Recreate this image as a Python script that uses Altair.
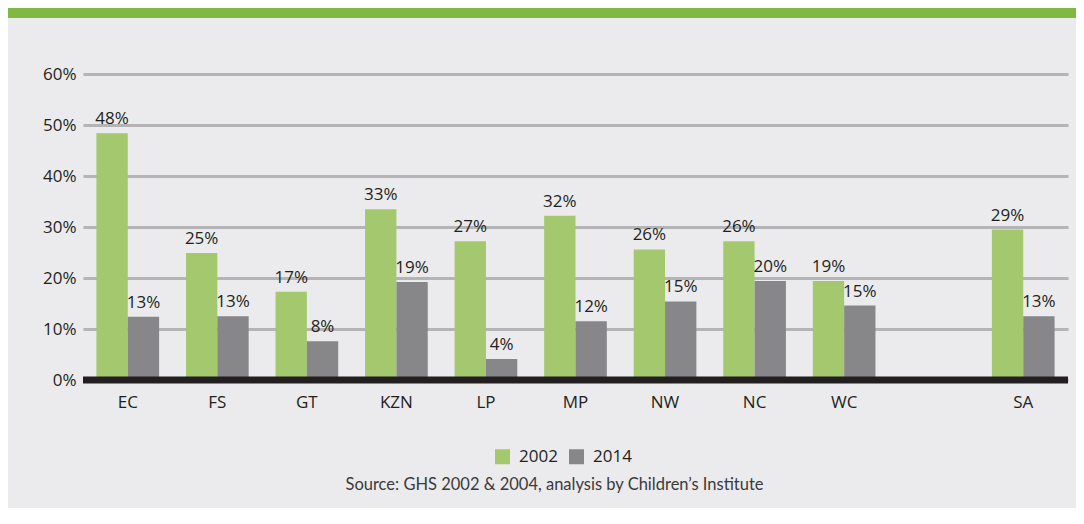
import altair as alt
import pandas as pd

categories = ["EC", "FS", "GT", "KZN", "LP", "MP", "NW", "NC", "WC", "SA"]
axis_order = ["EC", "FS", "GT", "KZN", "LP", "MP", "NW", "NC", "WC", " ", "SA"]
years = ["2002", "2014"]
bars_2002 = [48.4, 24.9, 17.3, 33.5, 27.2, 32.2, 25.6, 27.2, 19.4, 29.5]
bars_2014 = [12.4, 12.5, 7.6, 19.2, 4.1, 11.5, 15.4, 19.4, 14.6, 12.5]
labels_2002 = [48, 25, 17, 33, 27, 32, 26, 26, 19, 29]
labels_2014 = [13, 13, 8, 19, 4, 12, 15, 20, 15, 13]
y_ticks = [0, 10, 20, 30, 40, 50, 60]
source_text = "Source: GHS 2002 & 2004, analysis by Children\u2019s Institute"

rows = []
for i, c in enumerate(categories):
    rows.append({"region": c, "year": years[0], "value": bars_2002[i], "label": f"{labels_2002[i]}%"})
    rows.append({"region": c, "year": years[1], "value": bars_2014[i], "label": f"{labels_2014[i]}%"})
df = pd.DataFrame(rows)

TXT = "#231f20"
FONT = "Open Sans"

base = alt.Chart(df).encode(
    x=alt.X(
        "region:N",
        scale=alt.Scale(domain=axis_order, paddingInner=0.3, paddingOuter=0.15),
        axis=alt.Axis(title=None, labelAngle=0, domain=False, ticks=False,
                      labelFontSize=17, labelColor=TXT, labelFont=FONT, labelPadding=14),
    ),
    xOffset=alt.XOffset("year:N", scale=alt.Scale(domain=years)),
    y=alt.Y(
        "value:Q",
        scale=alt.Scale(domain=[0, 60], nice=False),
        axis=alt.Axis(values=y_ticks, labelExpr="datum.value + '%'", title=None,
                      domain=False, ticks=False, grid=True, gridColor="#b4b4b7",
                      gridWidth=3, labelPadding=7, labelFontSize=17,
                      labelColor=TXT, labelFont=FONT),
    ),
)

bars = base.mark_bar().encode(
    color=alt.Color(
        "year:N",
        scale=alt.Scale(domain=years, range=["#a3c86e", "#87878a"]),
        legend=alt.Legend(title=None, orient="none", legendX=411, legendY=374,
                          direction="horizontal", symbolType="square", symbolSize=225,
                          symbolStrokeWidth=0, labelFontSize=17, labelFont=FONT,
                          labelColor=TXT, columnPadding=10, labelOffset=8, padding=0),
    )
)

labels = base.mark_text(dy=-14, fontSize=17, font=FONT, color=TXT).encode(text="label:N")

baseline = alt.Chart(pd.DataFrame({"z": [0]})).mark_rule(color=TXT, strokeWidth=7).encode(
    y=alt.datum(0)
)

header = alt.Chart(pd.DataFrame({"h": [0]})).mark_rect(color="#80b941").encode(
    x=alt.value(-75), x2=alt.value(993), y=alt.value(-66), y2=alt.value(-56)
)

chart = alt.layer(header, bars, labels, baseline).properties(
    width=985,
    height=306,
    padding={"left": 75, "top": 66, "right": 8, "bottom": 128},
    autosize=alt.AutoSizeParams(type="none"),
    title=alt.TitleParams(source_text, orient="bottom", anchor="middle", fontSize=16.5,
                          font="Lato", fontWeight="normal", color="#3a3a3a", offset=12,
                          dx=-21),
).configure(background="#ebebed").configure_view(stroke=None)

chart.save("out.html", embed_options={"renderer": "svg", "actions": False})
